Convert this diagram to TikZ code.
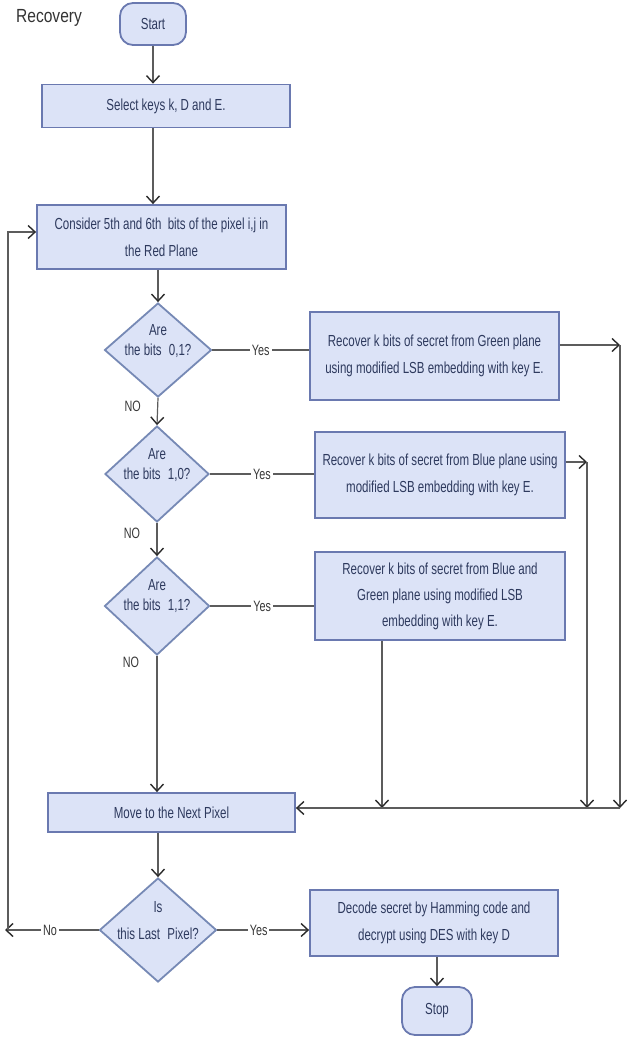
\documentclass[tikz,border=0pt]{standalone}
\usepackage{fontspec}
\setmainfont{Liberation Sans}[FakeStretch=0.72]
\newfontfamily\titlefont{Liberation Sans}[FakeStretch=0.82]
\usetikzlibrary{shapes.geometric,arrows.meta}
\definecolor{boxfill}{HTML}{DCE3F7}
\definecolor{boxdraw}{HTML}{6A79B0}
\definecolor{dmdraw}{HTML}{7689B5}
\definecolor{txt}{HTML}{2E3A5E}
\definecolor{ln}{HTML}{5C5C5C}
\definecolor{tip}{HTML}{2A2A2A}
\begin{document}
\begin{tikzpicture}[x=1pt,y=-1pt,
  every node/.style={inner sep=0pt},
  proc/.style={draw=boxdraw,fill=boxfill,line width=1.8pt,text=txt,align=center,
    font=\fontsize{16}{27}\selectfont},
  term/.style={proc,rounded corners=13pt},
  dec/.style={diamond,draw=dmdraw,fill=boxfill,line width=1.8pt},
  dtxt/.style={text=txt,align=center,font=\fontsize{16}{20}\selectfont},
  conn/.style={draw=ln,line width=1.2pt},
  arr/.style={conn,-{Straight Barb[length=7pt,width=13pt,line width=1.4pt,color=tip]}},
  lab/.style={fill=white,text=black!78,inner xsep=2pt,inner ysep=1pt,font=\fontsize{15}{16}\selectfont}
]
\useasboundingbox (0,0) rectangle (629,1038);

\node[text=black!80,font=\titlefont\fontsize{19}{20}\selectfont] (title) at (49,18) {Recovery};

\node[term,minimum width=66pt,minimum height=42pt] (start) at (153,24) {Start};
\node[proc,minimum width=248pt,minimum height=43pt] (select) at (166,106) {Select keys k, D and E.};
\node[proc,minimum width=249pt,minimum height=64pt] (consider) at (161.5,237)
  {Consider 5th and 6th\hspace{3pt} bits of the pixel i,j in\\the Red Plane};

\node[dec,minimum width=107pt,minimum height=94pt] (d1) at (158,350) {};
\node[dtxt] (d1t) at (158,341) {Are\\the bits\hspace{4pt} 0,1?};
\node[dec,minimum width=104pt,minimum height=96pt] (d2) at (157,474) {};
\node[dtxt] (d2t) at (157,465) {Are\\the bits\hspace{4pt} 1,0?};
\node[dec,minimum width=105pt,minimum height=98pt] (d3) at (157,606) {};
\node[dtxt] (d3t) at (157,596) {Are\\the bits\hspace{4pt} 1,1?};

\node[proc,minimum width=249pt,minimum height=88pt] (b1) at (434.5,356)
  {Recover k bits of secret from Green plane\\using modified LSB embedding with key E.};
\node[proc,minimum width=250pt,minimum height=86pt] (b2) at (440,475)
  {Recover k bits of secret from Blue plane using\\modified LSB embedding with key E.};
\node[proc,minimum width=250pt,minimum height=88pt,font=\fontsize{16}{26}\selectfont] (b3) at (440,596)
  {Recover k bits of secret from Blue and\\Green plane using modified LSB\\embedding with key E.};

\node[proc,minimum width=247pt,minimum height=39pt] (move) at (171.5,812.5) {Move to the Next Pixel};

\node[dec,minimum width=117pt,minimum height=104pt] (d4) at (158,930) {};
\node[dtxt,font=\fontsize{16}{27}\selectfont] (d4t) at (158,921) {Is\\this Last\hspace{4pt} Pixel?};

\node[proc,minimum width=248pt,minimum height=66pt] (decode) at (434,923)
  {Decode secret by Hamming code and\\decrypt using DES with key D};
\node[term,minimum width=70pt,minimum height=48pt] (stop) at (437,1011) {Stop};

% coordinates
\coordinate (r1) at (620,345);
\coordinate (r1b) at (620,808);
\coordinate (r2) at (587,462);
\coordinate (r2b) at (587,808);
\coordinate (r3b) at (382,808);
\coordinate (lb) at (5,930);
\coordinate (lv) at (8,930);
\coordinate (lt) at (8,232);

% main flow
\draw[arr] (start.south) -- (start.south |- select.north);
\draw[arr] (start |- select.south) -- (start |- consider.north);
\draw[arr] (d1 |- consider.south) -- (d1.north);
\draw[conn] (d1.east) -- node[lab]{Yes} (b1.west |- d1.east);
\draw[arr] (d1.south) -- node[lab,pos=0.3,xshift=-25pt,fill=none]{NO} (d2.north);
\draw[conn] (d2.east) -- node[lab]{Yes} (b2.west |- d2.east);
\draw[arr] (d2.south) -- node[lab,pos=0.3,xshift=-25pt,fill=none]{NO} (d3.north);
\draw[conn] (d3.east) -- node[lab]{Yes} (b3.west |- d3.east);
\draw[arr] (d3.south) -- node[lab,pos=0.05,xshift=-26pt,fill=none]{NO} (d3 |- move.north);

% right side returns
\draw[arr] (b1.east |- r1) -- (r1);
\draw[arr] (r1) -- (r1b);
\draw[arr] (b2.east |- r2) -- (r2);
\draw[arr] (r2) -- (r2b);
\draw[arr] (r3b |- b3.south) -- (r3b);
\draw[arr] (r1b) -- (move.east |- r1b);

% bottom
\draw[arr] (d4 |- move.south) -- (d4.north);
\draw[arr] (d4.east) -- node[lab,pos=0.45]{Yes} (decode.west |- d4.east);
\draw[arr] (d4.west) -- node[lab,pos=0.52]{No} (lb);
\draw[arr] (lv) -- (lt) -- (consider.west |- lt);
\draw[arr] (stop |- decode.south) -- (stop.north);
\end{tikzpicture}
\end{document}
